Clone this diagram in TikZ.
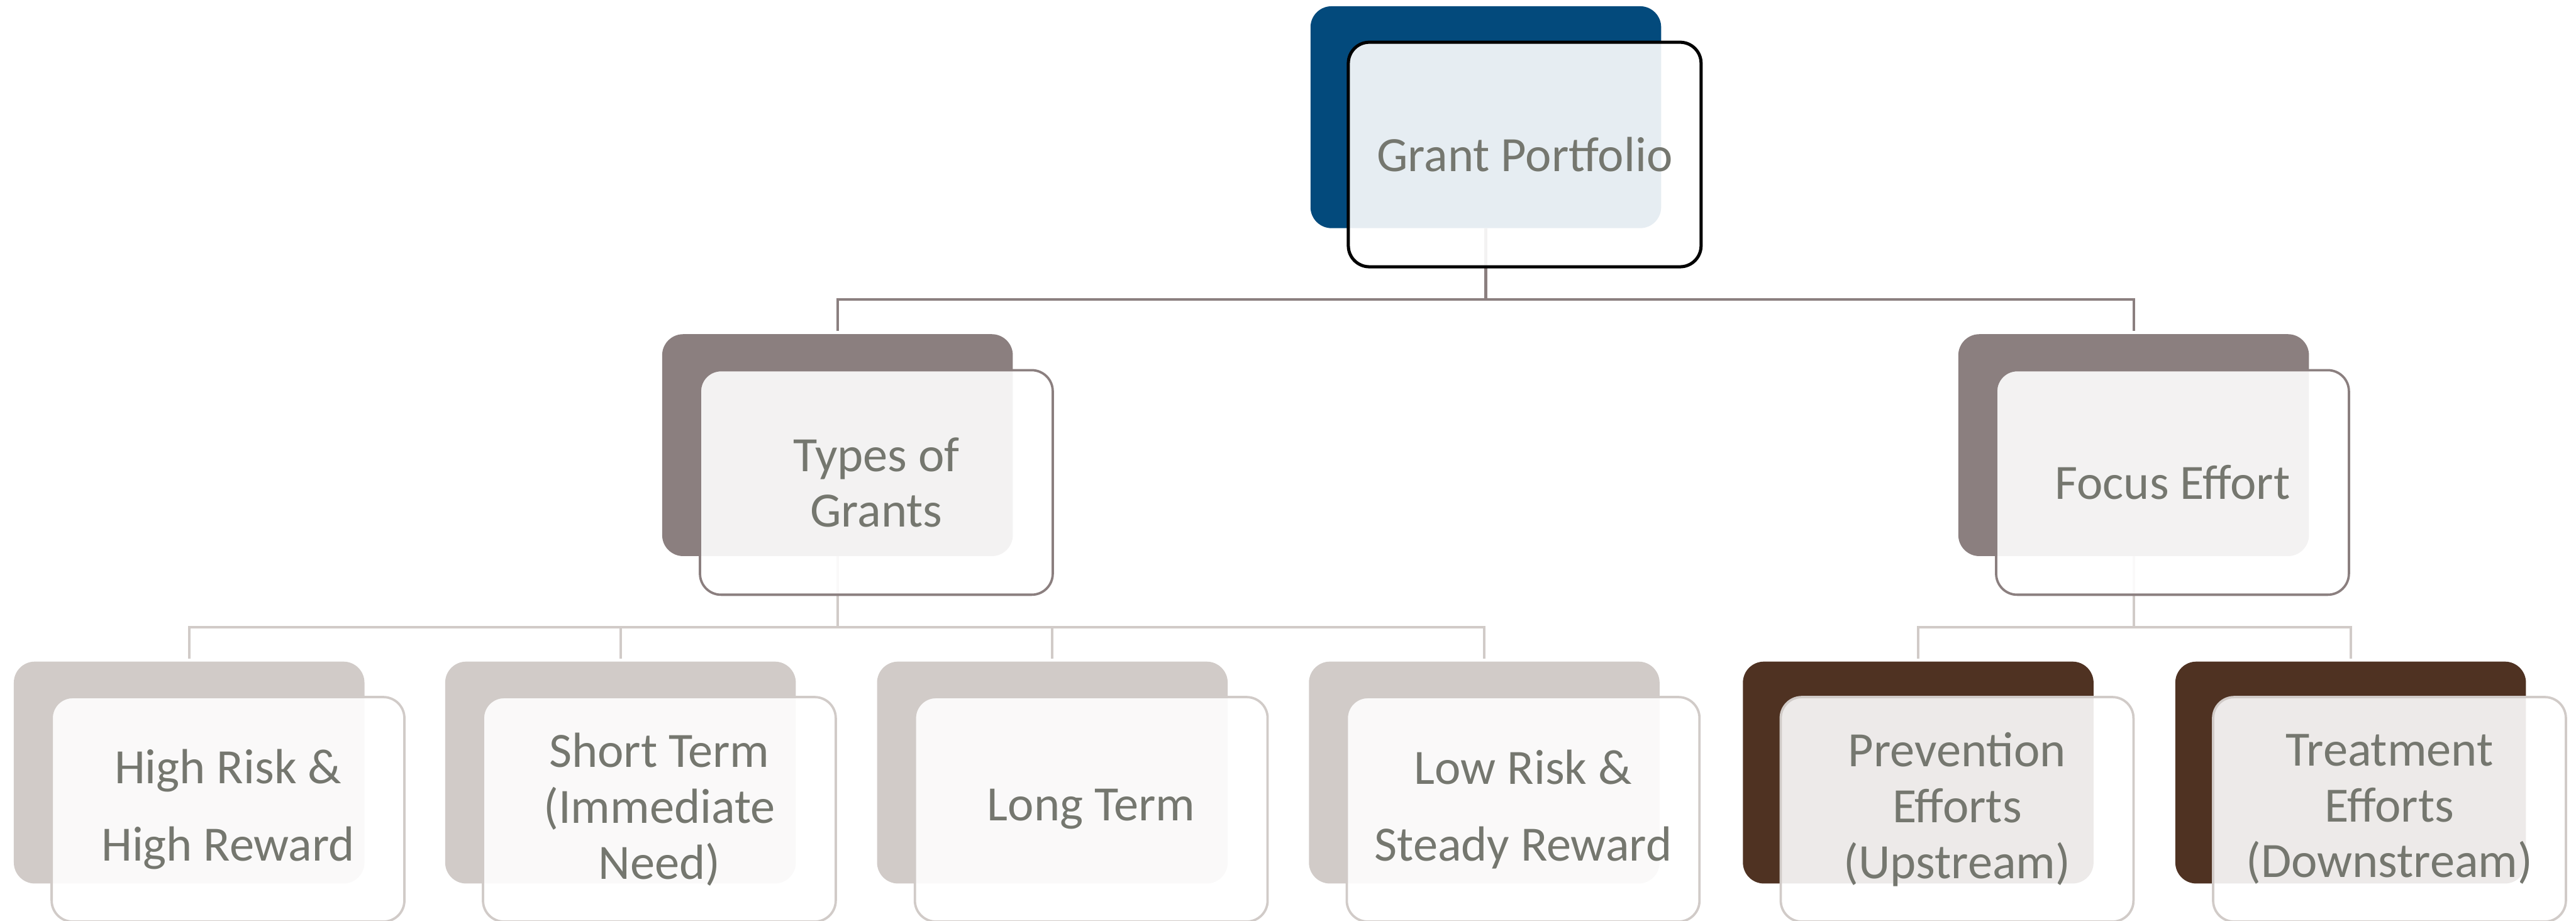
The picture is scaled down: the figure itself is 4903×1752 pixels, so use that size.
\documentclass[tikz,border=0pt]{standalone}
\usepackage{fontspec}
\setmainfont{Carlito}
\usetikzlibrary{backgrounds}

\definecolor{gpblue}{HTML}{034A7C}
\definecolor{taupe}{HTML}{8B7F7F}
\definecolor{lighttaupe}{HTML}{D1CBC8}
\definecolor{darkbrown}{HTML}{4F3222}
\definecolor{txtgrey}{HTML}{75776F}

\newcommand\lblfont{\fontsize{26.7pt}{30.2pt}\selectfont}
\newcommand\lblwide{\fontsize{26.7pt}{41.8pt}\selectfont}

\tikzset{
  backbox/.style={rectangle, rounded corners=0.4cm, minimum width=6.67cm,
    minimum height=4.22cm, inner sep=0pt, outer sep=0pt, draw=none},
  frontbox/.style={rectangle, rounded corners=0.4cm, minimum width=6.71cm,
    minimum height=4.27cm, inner sep=0pt, outer sep=0pt,
    fill=white, fill opacity=0.9, text opacity=1,
    line width=0.045cm, text=txtgrey, font=\lblfont, align=center},
  link/.style={line width=0.05cm},
}

\begin{document}
\begin{tikzpicture}[x=0.01cm,y=-0.01cm]
\useasboundingbox (0,0) rectangle (4903,1752);

% top level
\node[backbox, fill=gpblue] (gpB) at (2828,223) {};
\node[frontbox, draw=black, line width=0.06cm] (gpF) at (2902,294) {Grant Portfolio};

% second level
\node[backbox, fill=taupe] (tyB) at (1594,847) {};
\node[frontbox, draw=taupe] (tyF) at (1668,918) {Types of\\Grants};
\node[backbox, fill=taupe] (foB) at (4061,847) {};
\node[frontbox, draw=taupe] (foF) at (4135,918) {Focus Effort};

% third level
\node[backbox, fill=lighttaupe] (l1B) at (360,1470) {};
\node[frontbox, draw=lighttaupe, font=\lblwide] (l1F) at (434,1540) {High Risk \&\\High Reward};
\node[backbox, fill=lighttaupe] (l2B) at (1181,1470) {};
\node[frontbox, draw=lighttaupe] (l2F) at (1255,1540) {Short Term\\(Immediate\\Need)};
\node[backbox, fill=lighttaupe] (l3B) at (2003,1470) {};
\node[frontbox, draw=lighttaupe] (l3F) at (2077,1540) {Long Term};
\node[backbox, fill=lighttaupe] (l4B) at (2825,1470) {};
\node[frontbox, draw=lighttaupe, font=\lblwide] (l4F) at (2899,1540) {Low Risk \&\\Steady Reward};
\node[backbox, fill=darkbrown] (l5B) at (3651,1470) {};
\node[frontbox, draw=lighttaupe] (l5F) at (3725,1540) {Prevention\\Efforts\\(Upstream)};
\node[backbox, fill=darkbrown] (l6B) at (4474,1470) {};
\node[frontbox, draw=lighttaupe] (l6F) at (4548,1540) {Treatment\\Efforts\\(Downstream)};

% junction points of the tree lines
\coordinate (j1) at (2828,570);
\coordinate (j2) at (1594,1193);
\coordinate (j3) at (4061,1193);

\begin{pgfonlayer}{background}
  \draw[link, taupe] (gpB.south) -- (j1);
  \draw[link, taupe, shorten <=0.06cm, shorten >=0.06cm] (tyB.north) |- (j1) -| (foB.north);

  \draw[link, lighttaupe] (tyB.south) -- (j2);
  \draw[link, lighttaupe, shorten <=0.06cm, shorten >=0.06cm] (l1B.north) |- (j2) -| (l4B.north);
  \draw[link, lighttaupe, shorten >=0.06cm] (l2B.north |- j2) -- (l2B.north);
  \draw[link, lighttaupe, shorten >=0.06cm] (l3B.north |- j2) -- (l3B.north);

  \draw[link, lighttaupe] (foB.south) -- (j3);
  \draw[link, lighttaupe, shorten <=0.06cm, shorten >=0.06cm] (l5B.north) |- (j3) -| (l6B.north);
\end{pgfonlayer}
\end{tikzpicture}
\end{document}
